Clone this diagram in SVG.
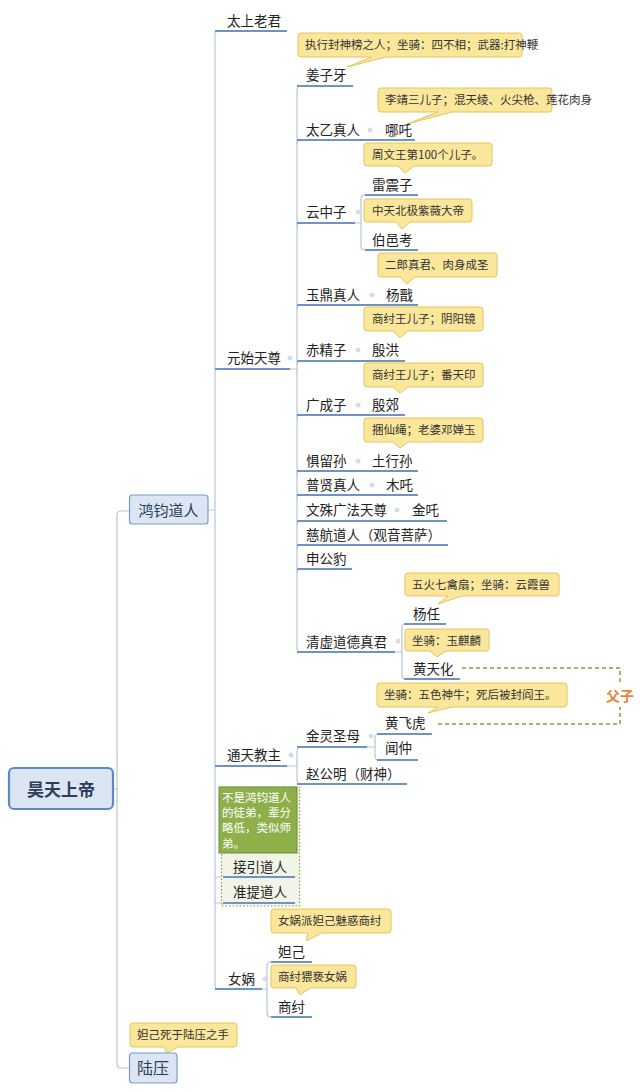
<svg xmlns="http://www.w3.org/2000/svg" width="640" height="1092" viewBox="0 0 640 1092">
<style>
text{font-family:"Noto Sans CJK SC","Noto Sans",sans-serif}
.t{font-size:13.5px;fill:#222}
.n{font-size:11.5px;fill:#333}
.w{font-size:11.5px;fill:#fff}
.ul{stroke:#6e94c4;stroke-width:2;fill:none}
.c{stroke:#b8c6d6;stroke-width:1.2;fill:none}
.note{fill:#fbe79b;stroke:#e6c35c;stroke-width:1}
.dot{fill:#d5dde7}
.box{fill:#dce6f2;stroke:#7b9cc8;stroke-width:1.2}
</style>
<rect width="640" height="1092" fill="#fff"/>

<g id="connectors">
  <path class="c" d="M113 789 H117 M117 515 Q117 511 121 511 H130 M117 515 V1064 Q117 1068 121 1068 H130"/>
  <path class="c" d="M208 510 H215 M215 35 Q215 31 219 31 M215 35 V985 Q215 989 219 989"/>
  <path class="c" d="M290 369 H297 M297 91 Q297 86 301 86 M297 91 V648 Q297 652 301 652"/>
  <path class="c" d="M297 144 Q297 140 301 140 M297 227 Q297 223 301 223 M297 309 Q297 305 301 305 M297 365 Q297 361 301 361 M297 419 Q297 415 301 415 M297 475 Q297 471 301 471 M297 499 Q297 495 301 495 M297 525 Q297 521 301 521 M297 549 Q297 545 301 545 M297 573 Q297 569 301 569"/>
  <path class="c" d="M355 223 H361 M365 195 Q361 195 361 199 V246 Q361 250 365 250"/>
  <path class="c" d="M395 652 H402 M406 624 Q402 624 402 628 V675 Q402 679 406 679"/>
  <path class="c" d="M287 766 H297 M301 747 Q297 747 297 751 V780 Q297 784 301 784"/>
  <path class="c" d="M367 747 H375 M379 734 Q375 734 375 738 V756 Q375 760 379 760"/>
  <path class="c" d="M262 989 H267 M271 962 Q267 962 267 966 V1013 Q267 1017 271 1017"/>
  <path class="c" d="M215 877 H223 M215 903 H223"/>
  <circle class="dot" cx="370" cy="130" r="2.5"/>
  <circle class="dot" cx="358" cy="212" r="2.5"/>
  <circle class="dot" cx="372" cy="295" r="2.5"/>
  <circle class="dot" cx="358" cy="350" r="2.5"/>
  <circle class="dot" cx="358" cy="405" r="2.5"/>
  <circle class="dot" cx="358" cy="461" r="2.5"/>
  <circle class="dot" cx="372" cy="485" r="2.5"/>
  <circle class="dot" cx="397" cy="510" r="2.5"/>
  <circle class="dot" cx="398" cy="641" r="2.5"/>
  <circle class="dot" cx="371" cy="736" r="2.5"/>
  <circle class="dot" cx="291" cy="755" r="2.5"/>
  <circle class="dot" cx="290" cy="358" r="2.5"/>
  <circle class="dot" cx="265" cy="979" r="2.5"/>
  <path d="M462 668 H620 V724 H437" fill="none" stroke="#8a9a4a" stroke-width="1.5" stroke-dasharray="4 3"/>
  <rect x="605" y="685" width="30" height="22" fill="#fff"/>
  <text x="620" y="701" text-anchor="middle" style="font-size:14px;font-weight:bold;fill:#e8843a">父子</text>
</g>

<g id="root">
  <rect x="9" y="768" width="104" height="41" rx="5" fill="#dce6f2" stroke="#5b8ac6" stroke-width="2.2"/>
  <text x="61" y="796" text-anchor="middle" style="font-size:17px;font-weight:bold;fill:#2b3f5a">昊天上帝</text>
</g>

<g id="hongjun">
  <rect class="box" x="129.5" y="495" width="78.5" height="29" rx="3"/>
  <text x="168.5" y="516" text-anchor="middle" style="font-size:15px;fill:#2b3f5a">鸿钧道人</text>
</g>

<g id="luya">
  <path class="note" d="M133 1023 H234 Q237 1023 237 1026 V1044 Q237 1047 234 1047 H178 L167 1053 L164 1047 H133 Q130 1047 130 1044 V1026 Q130 1023 133 1023 Z"/>
  <text class="n" x="137" y="1039">妲己死于陆压之手</text>
  <rect class="box" x="129.5" y="1053" width="47.5" height="30" rx="3"/>
  <text x="153" y="1074" text-anchor="middle" style="font-size:16px;fill:#2b3f5a">陆压</text>
</g>

<g id="taishang">
  <text class="t" x="227" y="26">太上老君</text>
  <path class="ul" d="M215 31 H287"/>
</g>

<g id="yuanshi">
  <text class="t" x="227" y="363">元始天尊</text>
  <path class="ul" d="M215 369 H290"/>
</g>

<g id="jiangziya">
  <path class="note" d="M301 33 H519 Q522 33 522 36 V54 Q522 57 519 57 H386 L347 67 L372 57 H301 Q298 57 298 54 V36 Q298 33 301 33 Z"/>
  <text class="n" x="305" y="49">执行封神榜之人；坐骑：四不相；武器:打神鞭</text>
  <text class="t" x="306" y="80">姜子牙</text>
  <path class="ul" d="M297 86 H353"/>
</g>

<g id="taiyi">
  <text class="t" x="306" y="135">太乙真人</text>
  <path class="ul" d="M297 140 H366"/>
</g>
<g id="nezha">
  <path class="note" d="M381 88 H549 Q552 88 552 91 V109 Q552 112 549 112 H452 L407 124 L438 112 H381 Q378 112 378 109 V91 Q378 88 381 88 Z"/>
  <text class="n" x="385" y="104">李靖三儿子；混天绫、火尖枪、莲花肉身</text>
  <text class="t" x="385" y="135">哪吒</text>
  <path class="ul" d="M366 140 H415"/>
</g>

<g id="yunzhongzi">
  <text class="t" x="306" y="217">云中子</text>
  <path class="ul" d="M297 223 H355"/>
</g>
<g id="leizhenzi">
  <path class="note" d="M367 143 H489 Q492 143 492 146 V163 Q492 166 489 166 H414 L405 173 L398 166 H367 Q364 166 364 163 V146 Q364 143 367 143 Z"/>
  <text class="n" x="372" y="159">周文王第100个儿子。</text>
  <text class="t" x="372" y="190">雷震子</text>
  <path class="ul" d="M365 195 H418"/>
</g>
<g id="boyikao">
  <path class="note" d="M367 199 H469 Q472 199 472 202 V219 Q472 222 469 222 H410 L402 229 L396 222 H367 Q364 222 364 219 V202 Q364 199 367 199 Z"/>
  <text class="n" x="372" y="215">中天北极紫薇大帝</text>
  <text class="t" x="372" y="245">伯邑考</text>
  <path class="ul" d="M365 250 H418"/>
</g>

<g id="yuding">
  <text class="t" x="306" y="300">玉鼎真人</text>
  <path class="ul" d="M297 305 H368"/>
</g>
<g id="yangjian">
  <path class="note" d="M381 253 H494 Q497 253 497 256 V274 Q497 277 494 277 H415 L407 284 L400 277 H381 Q378 277 378 274 V256 Q378 253 381 253 Z"/>
  <text class="n" x="385" y="269">二郎真君、肉身成圣</text>
  <text class="t" x="386" y="300">杨戬</text>
  <path class="ul" d="M368 305 H418"/>
</g>

<g id="chijingzi">
  <text class="t" x="306" y="355">赤精子</text>
  <path class="ul" d="M297 361 H355"/>
</g>
<g id="yinhong">
  <path class="note" d="M367 307 H480 Q483 307 483 310 V328 Q483 331 480 331 H408 L400 338 L393 331 H367 Q364 331 364 328 V310 Q364 307 367 307 Z"/>
  <text class="n" x="372" y="323">商纣王儿子；阴阳镜</text>
  <text class="t" x="372" y="355">殷洪</text>
  <path class="ul" d="M355 361 H405"/>
</g>

<g id="guangchengzi">
  <text class="t" x="306" y="410">广成子</text>
  <path class="ul" d="M297 415 H355"/>
</g>
<g id="yinjiao">
  <path class="note" d="M367 363 H480 Q483 363 483 366 V384 Q483 387 480 387 H408 L400 393 L393 387 H367 Q364 387 364 384 V366 Q364 363 367 363 Z"/>
  <text class="n" x="372" y="379">商纣王儿子；番天印</text>
  <text class="t" x="372" y="410">殷郊</text>
  <path class="ul" d="M355 415 H405"/>
</g>

<g id="juliusun">
  <text class="t" x="306" y="466">惧留孙</text>
  <path class="ul" d="M297 471 H355"/>
</g>
<g id="tuxingsun">
  <path class="note" d="M367 418 H480 Q483 418 483 421 V439 Q483 442 480 442 H408 L400 448 L393 442 H367 Q364 442 364 439 V421 Q364 418 367 418 Z"/>
  <text class="n" x="372" y="434">捆仙绳；老婆邓婵玉</text>
  <text class="t" x="372" y="466">土行孙</text>
  <path class="ul" d="M355 471 H418"/>
</g>

<g id="puxian">
  <text class="t" x="306" y="490">普贤真人</text>
  <path class="ul" d="M297 495 H368"/>
</g>
<g id="muzha">
  <text class="t" x="386" y="490">木吒</text>
  <path class="ul" d="M368 495 H418"/>
</g>

<g id="wenshu">
  <text class="t" x="306" y="515">文殊广法天尊</text>
  <path class="ul" d="M297 521 H393"/>
</g>
<g id="jinzha">
  <text class="t" x="412" y="515">金吒</text>
  <path class="ul" d="M393 521 H447"/>
</g>

<g id="cihang">
  <text class="t" x="306" y="540">慈航道人（观音菩萨）</text>
  <path class="ul" d="M297 545 H448"/>
</g>

<g id="shengongbao">
  <text class="t" x="306" y="564">申公豹</text>
  <path class="ul" d="M297 569 H352"/>
</g>

<g id="qingxu">
  <text class="t" x="306" y="647">清虚道德真君</text>
  <path class="ul" d="M297 652 H395"/>
</g>
<g id="yangren">
  <path class="note" d="M408 573 H556 Q559 573 559 576 V593 Q559 596 556 596 H462 L438 604 L448 596 H408 Q405 596 405 593 V576 Q405 573 408 573 Z"/>
  <text class="n" x="412" y="589">五火七禽扇；坐骑：云霞兽</text>
  <text class="t" x="413" y="619">杨任</text>
  <path class="ul" d="M404 624 H446"/>
</g>
<g id="huangtianhua">
  <path class="note" d="M408 629 H486 Q489 629 489 632 V648 Q489 651 486 651 H446 L437 657 L430 651 H408 Q405 651 405 648 V632 Q405 629 408 629 Z"/>
  <text class="n" x="412" y="645">坐骑：玉麒麟</text>
  <text class="t" x="413" y="674">黄天化</text>
  <path class="ul" d="M404 679 H460"/>
</g>

<g id="tongtian">
  <text class="t" x="227" y="760">通天教主</text>
  <path class="ul" d="M215 766 H287"/>
</g>
<g id="jinling">
  <text class="t" x="306" y="741">金灵圣母</text>
  <path class="ul" d="M297 747 H367"/>
</g>
<g id="huangfeihu">
  <path class="note" d="M380 683 H564 Q567 683 567 686 V704 Q567 707 564 707 H452 L428 713 L438 707 H380 Q377 707 377 704 V686 Q377 683 380 683 Z"/>
  <text class="n" x="384" y="699">坐骑：五色神牛；死后被封阎王。</text>
  <text class="t" x="385" y="728">黄飞虎</text>
  <path class="ul" d="M377 734 H432"/>
</g>
<g id="wenzhong">
  <text class="t" x="385" y="753">闻仲</text>
  <path class="ul" d="M377 760 H418"/>
</g>
<g id="zhaogongming">
  <text class="t" x="306" y="779">赵公明（财神）</text>
  <path class="ul" d="M297 784 H407"/>
</g>

<g id="xitian">
  <rect x="221.5" y="787" width="78" height="119" fill="#f1f4e6" stroke="#8aa04a" stroke-width="1.2" stroke-dasharray="1.5 2"/>
  <rect x="219" y="787" width="78" height="66" fill="#8eb04b" stroke="#6f8f35" stroke-width="1"/>
  <text class="w" x="222" y="802">不是鸿钧道人</text>
  <text class="w" x="222" y="817">的徒弟，辈分</text>
  <text class="w" x="222" y="832">略低，类似师</text>
  <text class="w" x="222" y="848">弟。</text>
</g>
<g id="jieyin">
  <text class="t" x="233" y="872">接引道人</text>
  <path class="ul" d="M223 877 H295"/>
</g>
<g id="zhunti">
  <text class="t" x="233" y="897">准提道人</text>
  <path class="ul" d="M223 903 H295"/>
</g>

<g id="nuwa">
  <text class="t" x="228" y="984">女娲</text>
  <path class="ul" d="M215 989 H262"/>
</g>
<g id="daji">
  <path class="note" d="M274 909 H388 Q391 909 391 912 V930 Q391 933 388 933 H322 L306 941 L308 933 H274 Q271 933 271 930 V912 Q271 909 274 909 Z"/>
  <text class="n" x="278" y="925">女娲派妲己魅惑商纣</text>
  <text class="t" x="278" y="957">妲己</text>
  <path class="ul" d="M271 962 H312"/>
</g>
<g id="shangzhou">
  <path class="note" d="M274 965 H353 Q356 965 356 968 V985 Q356 988 353 988 H310 L300 995 L296 988 H274 Q271 988 271 985 V968 Q271 965 274 965 Z"/>
  <text class="n" x="278" y="981">商纣猥亵女娲</text>
  <text class="t" x="278" y="1012">商纣</text>
  <path class="ul" d="M271 1017 H312"/>
</g>
</svg>
